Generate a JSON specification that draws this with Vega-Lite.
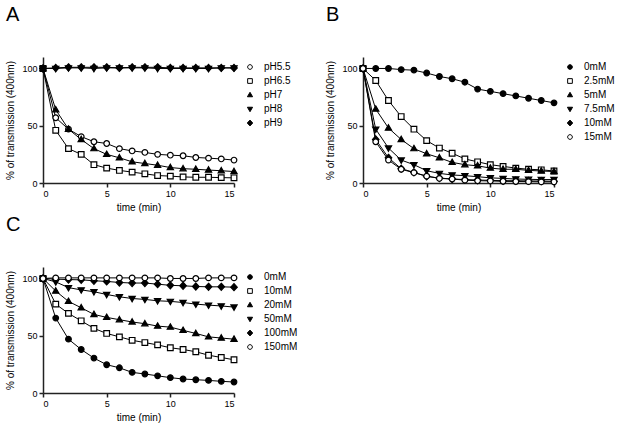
{
"$schema": "https://vega.github.io/schema/vega-lite/v6.json",
"padding": 5,
"datasets": {
"A": [
{"t":0,"s":"pH5.5","v":100},{"t":1,"s":"pH5.5","v":57},{"t":2,"s":"pH5.5","v":47},{"t":3,"s":"pH5.5","v":40.5},{"t":4,"s":"pH5.5","v":36},{"t":5,"s":"pH5.5","v":34.5},{"t":6,"s":"pH5.5","v":30},{"t":7,"s":"pH5.5","v":28},{"t":8,"s":"pH5.5","v":26.7},{"t":9,"s":"pH5.5","v":25},{"t":10,"s":"pH5.5","v":24.3},{"t":11,"s":"pH5.5","v":23.8},{"t":12,"s":"pH5.5","v":22.3},{"t":13,"s":"pH5.5","v":21.7},{"t":14,"s":"pH5.5","v":21},{"t":15,"s":"pH5.5","v":20},
{"t":0,"s":"pH6.5","v":100},{"t":1,"s":"pH6.5","v":46},{"t":2,"s":"pH6.5","v":30},{"t":3,"s":"pH6.5","v":25},{"t":4,"s":"pH6.5","v":16},{"t":5,"s":"pH6.5","v":13},{"t":6,"s":"pH6.5","v":11},{"t":7,"s":"pH6.5","v":9.5},{"t":8,"s":"pH6.5","v":8},{"t":9,"s":"pH6.5","v":6.5},{"t":10,"s":"pH6.5","v":6},{"t":11,"s":"pH6.5","v":5.3},{"t":12,"s":"pH6.5","v":5},{"t":13,"s":"pH6.5","v":5},{"t":14,"s":"pH6.5","v":4.7},{"t":15,"s":"pH6.5","v":4.5},
{"t":0,"s":"pH7","v":100},{"t":1,"s":"pH7","v":64},{"t":2,"s":"pH7","v":47},{"t":3,"s":"pH7","v":38},{"t":4,"s":"pH7","v":30},{"t":5,"s":"pH7","v":25},{"t":6,"s":"pH7","v":22},{"t":7,"s":"pH7","v":18.5},{"t":8,"s":"pH7","v":17},{"t":9,"s":"pH7","v":15.5},{"t":10,"s":"pH7","v":13.5},{"t":11,"s":"pH7","v":12.5},{"t":12,"s":"pH7","v":12},{"t":13,"s":"pH7","v":11.3},{"t":14,"s":"pH7","v":10.7},{"t":15,"s":"pH7","v":10},
{"t":0,"s":"pH8","v":100},{"t":1,"s":"pH8","v":100},{"t":2,"s":"pH8","v":100.5},{"t":3,"s":"pH8","v":100.5},{"t":4,"s":"pH8","v":100},{"t":5,"s":"pH8","v":100.5},{"t":6,"s":"pH8","v":100.5},{"t":7,"s":"pH8","v":100.5},{"t":8,"s":"pH8","v":100.5},{"t":9,"s":"pH8","v":100},{"t":10,"s":"pH8","v":100},{"t":11,"s":"pH8","v":100},{"t":12,"s":"pH8","v":100},{"t":13,"s":"pH8","v":100},{"t":14,"s":"pH8","v":100.5},{"t":15,"s":"pH8","v":100.5},
{"t":0,"s":"pH9","v":100},{"t":1,"s":"pH9","v":100.5},{"t":2,"s":"pH9","v":101},{"t":3,"s":"pH9","v":101},{"t":4,"s":"pH9","v":101},{"t":5,"s":"pH9","v":101},{"t":6,"s":"pH9","v":100.5},{"t":7,"s":"pH9","v":101},{"t":8,"s":"pH9","v":101},{"t":9,"s":"pH9","v":101},{"t":10,"s":"pH9","v":100.5},{"t":11,"s":"pH9","v":100.5},{"t":12,"s":"pH9","v":100.5},{"t":13,"s":"pH9","v":100.5},{"t":14,"s":"pH9","v":100.5},{"t":15,"s":"pH9","v":100.5}
],
"B": [
{"t":0,"s":"0mM","v":100},{"t":1,"s":"0mM","v":100},{"t":2,"s":"0mM","v":100},{"t":3,"s":"0mM","v":99},{"t":4,"s":"0mM","v":98.5},{"t":5,"s":"0mM","v":96},{"t":6,"s":"0mM","v":93},{"t":7,"s":"0mM","v":91},{"t":8,"s":"0mM","v":88},{"t":9,"s":"0mM","v":82},{"t":10,"s":"0mM","v":80},{"t":11,"s":"0mM","v":78},{"t":12,"s":"0mM","v":76},{"t":13,"s":"0mM","v":74},{"t":14,"s":"0mM","v":72},{"t":15,"s":"0mM","v":70},
{"t":0,"s":"2.5mM","v":100},{"t":1,"s":"2.5mM","v":89.5},{"t":2,"s":"2.5mM","v":72},{"t":3,"s":"2.5mM","v":58},{"t":4,"s":"2.5mM","v":47},{"t":5,"s":"2.5mM","v":37},{"t":6,"s":"2.5mM","v":30.5},{"t":7,"s":"2.5mM","v":26},{"t":8,"s":"2.5mM","v":21},{"t":9,"s":"2.5mM","v":18.5},{"t":10,"s":"2.5mM","v":16},{"t":11,"s":"2.5mM","v":14.5},{"t":12,"s":"2.5mM","v":13},{"t":13,"s":"2.5mM","v":12},{"t":14,"s":"2.5mM","v":11.5},{"t":15,"s":"2.5mM","v":10.5},
{"t":0,"s":"5mM","v":100},{"t":1,"s":"5mM","v":64.5},{"t":2,"s":"5mM","v":48},{"t":3,"s":"5mM","v":38},{"t":4,"s":"5mM","v":30},{"t":5,"s":"5mM","v":25.5},{"t":6,"s":"5mM","v":22},{"t":7,"s":"5mM","v":18},{"t":8,"s":"5mM","v":16},{"t":9,"s":"5mM","v":15},{"t":10,"s":"5mM","v":13},{"t":11,"s":"5mM","v":12},{"t":12,"s":"5mM","v":12},{"t":13,"s":"5mM","v":11},{"t":14,"s":"5mM","v":10.5},{"t":15,"s":"5mM","v":10},
{"t":0,"s":"7.5mM","v":100},{"t":1,"s":"7.5mM","v":47},{"t":2,"s":"7.5mM","v":30.5},{"t":3,"s":"7.5mM","v":20},{"t":4,"s":"7.5mM","v":16},{"t":5,"s":"7.5mM","v":10.7},{"t":6,"s":"7.5mM","v":8.4},{"t":7,"s":"7.5mM","v":7},{"t":8,"s":"7.5mM","v":6.4},{"t":9,"s":"7.5mM","v":5.5},{"t":10,"s":"7.5mM","v":4.5},{"t":11,"s":"7.5mM","v":4},{"t":12,"s":"7.5mM","v":3.5},{"t":13,"s":"7.5mM","v":3.2},{"t":14,"s":"7.5mM","v":3},{"t":15,"s":"7.5mM","v":3},
{"t":0,"s":"10mM","v":100},{"t":1,"s":"10mM","v":38},{"t":2,"s":"10mM","v":22},{"t":3,"s":"10mM","v":12.5},{"t":4,"s":"10mM","v":9.3},{"t":5,"s":"10mM","v":5.8},{"t":6,"s":"10mM","v":4.3},{"t":7,"s":"10mM","v":3.5},{"t":8,"s":"10mM","v":3},{"t":9,"s":"10mM","v":2.6},{"t":10,"s":"10mM","v":2.3},{"t":11,"s":"10mM","v":2},{"t":12,"s":"10mM","v":2},{"t":13,"s":"10mM","v":1.8},{"t":14,"s":"10mM","v":1.7},{"t":15,"s":"10mM","v":1.5},
{"t":0,"s":"15mM","v":100},{"t":1,"s":"15mM","v":36},{"t":2,"s":"15mM","v":20},{"t":3,"s":"15mM","v":12},{"t":4,"s":"15mM","v":9},{"t":5,"s":"15mM","v":6},{"t":6,"s":"15mM","v":4},{"t":7,"s":"15mM","v":3.5},{"t":8,"s":"15mM","v":2.5},{"t":9,"s":"15mM","v":2},{"t":10,"s":"15mM","v":1.8},{"t":11,"s":"15mM","v":1.5},{"t":12,"s":"15mM","v":1.3},{"t":13,"s":"15mM","v":1.2},{"t":14,"s":"15mM","v":1},{"t":15,"s":"15mM","v":1}
],
"C": [
{"t":0,"s":"0mM","v":100},{"t":1,"s":"0mM","v":65.4},{"t":2,"s":"0mM","v":47},{"t":3,"s":"0mM","v":38},{"t":4,"s":"0mM","v":30.5},{"t":5,"s":"0mM","v":24.7},{"t":6,"s":"0mM","v":22},{"t":7,"s":"0mM","v":18},{"t":8,"s":"0mM","v":16.6},{"t":9,"s":"0mM","v":15},{"t":10,"s":"0mM","v":13.4},{"t":11,"s":"0mM","v":12.2},{"t":12,"s":"0mM","v":11.6},{"t":13,"s":"0mM","v":11},{"t":14,"s":"0mM","v":10.2},{"t":15,"s":"0mM","v":9.6},
{"t":0,"s":"10mM","v":100},{"t":1,"s":"10mM","v":77.6},{"t":2,"s":"10mM","v":69.5},{"t":3,"s":"10mM","v":63},{"t":4,"s":"10mM","v":56.4},{"t":5,"s":"10mM","v":52},{"t":6,"s":"10mM","v":49},{"t":7,"s":"10mM","v":46},{"t":8,"s":"10mM","v":44},{"t":9,"s":"10mM","v":42},{"t":10,"s":"10mM","v":39.5},{"t":11,"s":"10mM","v":38},{"t":12,"s":"10mM","v":36},{"t":13,"s":"10mM","v":33},{"t":14,"s":"10mM","v":31},{"t":15,"s":"10mM","v":29},
{"t":0,"s":"20mM","v":100},{"t":1,"s":"20mM","v":89},{"t":2,"s":"20mM","v":80},{"t":3,"s":"20mM","v":74.4},{"t":4,"s":"20mM","v":68.6},{"t":5,"s":"20mM","v":66},{"t":6,"s":"20mM","v":64},{"t":7,"s":"20mM","v":62},{"t":8,"s":"20mM","v":60.5},{"t":9,"s":"20mM","v":58.4},{"t":10,"s":"20mM","v":57.5},{"t":11,"s":"20mM","v":54.7},{"t":12,"s":"20mM","v":52},{"t":13,"s":"20mM","v":49},{"t":14,"s":"20mM","v":48},{"t":15,"s":"20mM","v":47},
{"t":0,"s":"50mM","v":100},{"t":1,"s":"50mM","v":97},{"t":2,"s":"50mM","v":92},{"t":3,"s":"50mM","v":90},{"t":4,"s":"50mM","v":88.4},{"t":5,"s":"50mM","v":86},{"t":6,"s":"50mM","v":84},{"t":7,"s":"50mM","v":82.5},{"t":8,"s":"50mM","v":81.7},{"t":9,"s":"50mM","v":80.5},{"t":10,"s":"50mM","v":80},{"t":11,"s":"50mM","v":79},{"t":12,"s":"50mM","v":77.6},{"t":13,"s":"50mM","v":76.7},{"t":14,"s":"50mM","v":76},{"t":15,"s":"50mM","v":75},
{"t":0,"s":"100mM","v":100},{"t":1,"s":"100mM","v":99.4},{"t":2,"s":"100mM","v":99},{"t":3,"s":"100mM","v":98.8},{"t":4,"s":"100mM","v":98},{"t":5,"s":"100mM","v":97.4},{"t":6,"s":"100mM","v":96.5},{"t":7,"s":"100mM","v":96},{"t":8,"s":"100mM","v":96},{"t":9,"s":"100mM","v":95},{"t":10,"s":"100mM","v":94},{"t":11,"s":"100mM","v":93.6},{"t":12,"s":"100mM","v":93},{"t":13,"s":"100mM","v":92.7},{"t":14,"s":"100mM","v":92.7},{"t":15,"s":"100mM","v":92.4},
{"t":0,"s":"150mM","v":100},{"t":1,"s":"150mM","v":100.5},{"t":2,"s":"150mM","v":100.5},{"t":3,"s":"150mM","v":100.5},{"t":4,"s":"150mM","v":100.5},{"t":5,"s":"150mM","v":100.5},{"t":6,"s":"150mM","v":100.5},{"t":7,"s":"150mM","v":100.5},{"t":8,"s":"150mM","v":100.5},{"t":9,"s":"150mM","v":100.5},{"t":10,"s":"150mM","v":100},{"t":11,"s":"150mM","v":100},{"t":12,"s":"150mM","v":100},{"t":13,"s":"150mM","v":100.5},{"t":14,"s":"150mM","v":100.5},{"t":15,"s":"150mM","v":100.5}
]
},
"config": {
"font": "Liberation Sans",
"view": {"stroke": null},
"axis": {"domainColor": "#222", "domainWidth": 1.5, "tickColor": "#222", "tickWidth": 1.5, "tickSize": 4, "labelFontSize": 9, "labelColor": "black", "titleFontSize": 10, "titleFontWeight": "normal", "titleColor": "black", "grid": false, "labelPadding": 2},
"legend": {"labelFontSize": 10, "labelColor": "black", "symbolSize": 22, "symbolStrokeColor": "black", "symbolStrokeWidth": 1, "labelOffset": 9, "rowPadding": 4, "offset": 4, "padding": 5, "title": null},
"title": {"fontSize": 20, "fontWeight": "normal", "anchor": "start", "frame": "bounds", "color": "black", "offset": 32}
},
"resolve": {"scale": {"shape": "independent", "fill": "independent", "stroke": "independent", "x": "independent", "y": "independent"}, "legend": {"shape": "independent", "fill": "independent", "stroke": "independent"}},
"spacing": 3,
"vconcat": [
{
"hconcat": [
{
"title": "A",
"width": 191, "height": 126,
"data": {"name": "A"},
"encoding": {
"x": {"field": "t", "type": "quantitative", "scale": {"domain": [0, 15], "nice": false}, "axis": {"values": [0, 5, 10, 15], "title": "time (min)"}},
"y": {"field": "v", "type": "quantitative", "scale": {"domain": [0, 110], "nice": false}, "axis": {"values": [0, 50, 100], "title": "% of transmission (400nm)", "titlePadding": 6}}
},
"layer": [
{"mark": {"type": "line", "color": "black", "strokeWidth": 1}, "encoding": {"detail": {"field": "s"}}},
{"mark": {"type": "point", "filled": true, "strokeWidth": 1.2, "opacity": 1, "size": 32},
"encoding": {
"shape": {"field": "s", "type": "nominal", "scale": {"domain": ["pH5.5", "pH6.5", "pH7", "pH8", "pH9"], "range": ["M1,0A1,1 0 1 1 -1,0A1,1 0 1 1 1,0Z", "M-1,-1H1V1H-1Z", "M0,-1.15L1.1,0.75L-1.1,0.75Z", "M0,1.15L1.1,-0.75L-1.1,-0.75Z", "M0,-1.25L1.15,0L0,1.25L-1.15,0Z"]}},
"fill": {"field": "s", "type": "nominal", "scale": {"domain": ["pH5.5", "pH6.5", "pH7", "pH8", "pH9"], "range": ["white", "white", "black", "black", "black"]}},
"stroke": {"field": "s", "type": "nominal", "scale": {"domain": ["pH5.5", "pH6.5", "pH7", "pH8", "pH9"], "range": ["black", "black", "black", "black", "black"]}}
}}
]
},
{
"title": "B",
"width": 191, "height": 126,
"data": {"name": "B"},
"encoding": {
"x": {"field": "t", "type": "quantitative", "scale": {"domain": [0, 15], "nice": false}, "axis": {"values": [0, 5, 10, 15], "title": "time (min)"}},
"y": {"field": "v", "type": "quantitative", "scale": {"domain": [0, 110], "nice": false}, "axis": {"values": [0, 50, 100], "title": "% of transmission (400nm)", "titlePadding": 6}}
},
"layer": [
{"mark": {"type": "line", "color": "black", "strokeWidth": 1}, "encoding": {"detail": {"field": "s"}}},
{"mark": {"type": "point", "filled": true, "strokeWidth": 1.2, "opacity": 1, "size": 32},
"encoding": {
"shape": {"field": "s", "type": "nominal", "scale": {"domain": ["0mM", "2.5mM", "5mM", "7.5mM", "10mM", "15mM"], "range": ["M1,0A1,1 0 1 1 -1,0A1,1 0 1 1 1,0Z", "M-1,-1H1V1H-1Z", "M0,-1.15L1.1,0.75L-1.1,0.75Z", "M0,1.15L1.1,-0.75L-1.1,-0.75Z", "M0,-1.25L1.15,0L0,1.25L-1.15,0Z", "M1,0A1,1 0 1 1 -1,0A1,1 0 1 1 1,0Z"]}},
"fill": {"field": "s", "type": "nominal", "scale": {"domain": ["0mM", "2.5mM", "5mM", "7.5mM", "10mM", "15mM"], "range": ["black", "white", "black", "black", "black", "white"]}},
"stroke": {"field": "s", "type": "nominal", "scale": {"domain": ["0mM", "2.5mM", "5mM", "7.5mM", "10mM", "15mM"], "range": ["black", "black", "black", "black", "black", "black"]}}
}}
]
}
],
"spacing": 29,
"resolve": {"scale": {"shape": "independent", "fill": "independent", "stroke": "independent", "x": "independent", "y": "independent"}, "legend": {"shape": "independent", "fill": "independent", "stroke": "independent"}}
},
{
"title": "C",
"width": 191, "height": 126,
"data": {"name": "C"},
"encoding": {
"x": {"field": "t", "type": "quantitative", "scale": {"domain": [0, 15], "nice": false}, "axis": {"values": [0, 5, 10, 15], "title": "time (min)"}},
"y": {"field": "v", "type": "quantitative", "scale": {"domain": [0, 110], "nice": false}, "axis": {"values": [0, 50, 100], "title": "% of transmission (400nm)", "titlePadding": 6}}
},
"layer": [
{"mark": {"type": "line", "color": "black", "strokeWidth": 1}, "encoding": {"detail": {"field": "s"}}},
{"mark": {"type": "point", "filled": true, "strokeWidth": 1.2, "opacity": 1, "size": 32},
"encoding": {
"shape": {"field": "s", "type": "nominal", "scale": {"domain": ["0mM", "10mM", "20mM", "50mM", "100mM", "150mM"], "range": ["M1,0A1,1 0 1 1 -1,0A1,1 0 1 1 1,0Z", "M-1,-1H1V1H-1Z", "M0,-1.15L1.1,0.75L-1.1,0.75Z", "M0,1.15L1.1,-0.75L-1.1,-0.75Z", "M0,-1.25L1.15,0L0,1.25L-1.15,0Z", "M1,0A1,1 0 1 1 -1,0A1,1 0 1 1 1,0Z"]}, "legend": {"labelExpr": "datum.label === '0mM' ? '\u2007\u20070mM' : datum.label"}},
"fill": {"field": "s", "type": "nominal", "scale": {"domain": ["0mM", "10mM", "20mM", "50mM", "100mM", "150mM"], "range": ["black", "white", "black", "black", "black", "white"]}, "legend": {"labelExpr": "datum.label === '0mM' ? '\u2007\u20070mM' : datum.label"}},
"stroke": {"field": "s", "type": "nominal", "scale": {"domain": ["0mM", "10mM", "20mM", "50mM", "100mM", "150mM"], "range": ["black", "black", "black", "black", "black", "black"]}, "legend": {"labelExpr": "datum.label === '0mM' ? '\u2007\u20070mM' : datum.label"}}
}}
]
}
]
}
